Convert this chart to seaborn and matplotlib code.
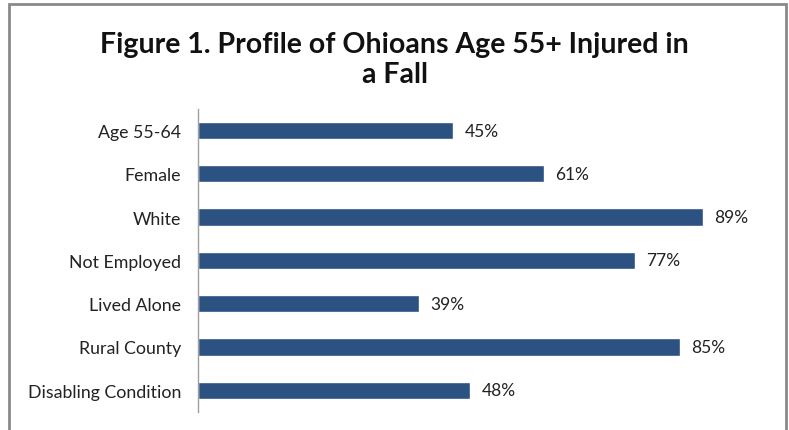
import matplotlib
matplotlib.use('Agg')
import matplotlib.pyplot as plt
import pandas as pd
import seaborn as sns
from matplotlib.patches import Rectangle

# data
categories = ['Age 55-64', 'Female', 'White', 'Not Employed', 'Lived Alone',
              'Rural County', 'Disabling Condition']
percent = [45, 61, 89, 77, 39, 85, 48]

df = pd.DataFrame({'group': categories, 'pct': percent})

sns.set_theme(style='white')
plt.rcParams['font.family'] = ['Lato', 'DejaVu Sans']

fig = plt.figure(figsize=(7.89, 4.31), dpi=100)
ax = fig.add_axes([0.251, 0.042, 0.719, 0.703])

sns.barplot(data=df, x='pct', y='group', orient='h', color='#2c5282',
            saturation=1, width=0.4, ax=ax)

# value labels
for i, v in enumerate(percent):
    ax.text(v + 2.0, i, f'{v}%', va='center', ha='left', fontsize=12.5,
            color='#222222')

ax.set_xlim(0, 100)
ax.set_ylim(6.5, -0.5)
ax.set_xlabel('')
ax.set_ylabel('')
ax.set_xticks([])
ax.tick_params(axis='y', length=0, pad=12, labelsize=12.8, labelcolor='#222222')
for s in ['top', 'right', 'bottom']:
    ax.spines[s].set_visible(False)
ax.spines['left'].set_color('#a0a0a0')
ax.spines['left'].set_linewidth(1)

fig.text(0.5, 0.86, 'Figure 1. Profile of Ohioans Age 55+ Injured in\na Fall',
         ha='center', va='center', fontsize=20.5, fontweight='bold',
         linespacing=1.2, color='#111111')

# grey frame round the chart
fig.patches.append(Rectangle((0.012, -0.01), 0.984, 0.998, transform=fig.transFigure,
                             fill=False, edgecolor='#8a8a8a', linewidth=2))

fig.savefig('out.png', dpi=100)
